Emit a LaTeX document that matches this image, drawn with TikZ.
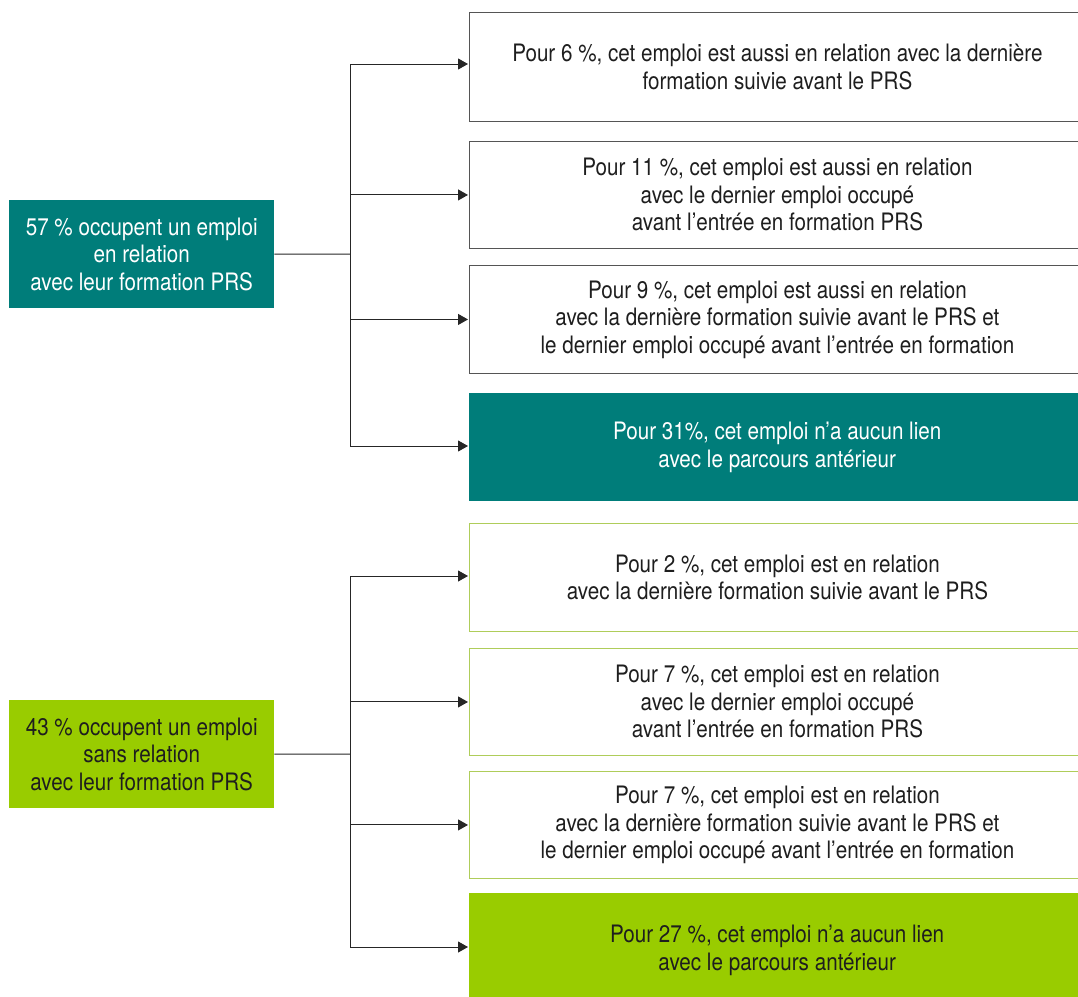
\documentclass[tikz,border=0pt]{standalone}
\usepackage{fontspec}
\setmainfont{TeX Gyre Heros}[FakeStretch=0.86]
\usetikzlibrary{arrows.meta}
\definecolor{teal1}{RGB}{0,125,122}
\definecolor{green1}{RGB}{153,204,0}
\definecolor{gborder}{RGB}{175,205,90}
\definecolor{gborder2}{RGB}{85,85,85}
\definecolor{txt}{RGB}{30,30,30}
\tikzset{
  base/.style={anchor=north west, align=center, inner sep=0pt,
    font=\fontsize{24}{27.5}\selectfont, text=txt},
  rbox/.style={base, minimum width=616pt, minimum height=#1},
  wbox/.style={draw=gborder2, line width=0.9pt, fill=white},
  gwbox/.style={draw=gborder, line width=0.9pt, fill=white},
  tbox/.style={fill=teal1, text=white},
  gbox/.style={fill=green1},
  lbox/.style={base, minimum width=265pt, minimum height=108pt},
  conn/.style={line width=1pt, draw=black!85},
  arr/.style={conn, -{Triangle[length=10pt,width=11pt]}, shorten >=1pt},
}
\begin{document}
\begin{tikzpicture}[x=1pt,y=-1pt]
\useasboundingbox (0,0) rectangle (1078,996);
% left boxes
\node[lbox, tbox] (l1) at (9,200) {57 \% occupent un emploi\\en relation\\avec leur formation PRS};
\node[lbox, gbox] (l2) at (9,700) {43 \% occupent un emploi\\sans relation\\avec leur formation PRS};
% right boxes, upper group
\node[rbox=109pt, wbox] (r1) at (469,12) {Pour 6 \%, cet emploi est aussi en relation avec la dernière\\formation suivie avant le PRS};
\node[rbox=107pt, wbox] (r2) at (469,141) {Pour 11 \%, cet emploi est aussi en relation\\avec le dernier emploi occupé\\avant l’entrée en formation PRS};
\node[rbox=108pt, wbox] (r3) at (469,265) {Pour 9 \%, cet emploi est aussi en relation\\avec la dernière formation suivie avant le PRS et\\le dernier emploi occupé avant l’entrée en formation};
\node[rbox=108pt, tbox] (r4) at (469,393) {Pour 31\%, cet emploi n’a aucun lien\\avec le parcours antérieur};
% right boxes, lower group
\node[rbox=108pt, gwbox] (r5) at (469,523) {Pour 2 \%, cet emploi est en relation\\avec la dernière formation suivie avant le PRS};
\node[rbox=107pt, gwbox] (r6) at (469,648) {Pour 7 \%, cet emploi est en relation\\avec le dernier emploi occupé\\avant l’entrée en formation PRS};
\node[rbox=107pt, gwbox] (r7) at (469,771) {Pour 7 \%, cet emploi est en relation\\avec la dernière formation suivie avant le PRS et\\le dernier emploi occupé avant l’entrée en formation};
\node[rbox=114pt, gbox] (r8) at (469,893) {Pour 27 \%, cet emploi n’a aucun lien\\avec le parcours antérieur};
% junctions
\coordinate (j1) at (350,254);
\coordinate (j2) at (350,754);
\coordinate (t1) at (350,64);
\coordinate (b1) at (350,446);
\coordinate (t2) at (350,576);
\coordinate (b2) at (350,947);
\draw[conn] (l1.east) -- (j1);
\draw[conn] (l2.east) -- (j2);
\draw[conn] (t1) -- (b1);
\draw[conn] (t2) -- (b2);
\draw[arr] (t1) -- (t1 -| r1.west);
\draw[arr] (j1 |- r2.west) -- (r2.west);
\draw[arr] (j1 |- r3.west) -- (r3.west);
\draw[arr] (b1) -- (b1 -| r4.west);
\draw[arr] (t2) -- (t2 -| r5.west);
\draw[arr] (j2 |- r6.west) -- (r6.west);
\draw[arr] (j2 |- r7.west) -- (r7.west);
\draw[arr] (b2) -- (b2 -| r8.west);
\end{tikzpicture}
\end{document}
